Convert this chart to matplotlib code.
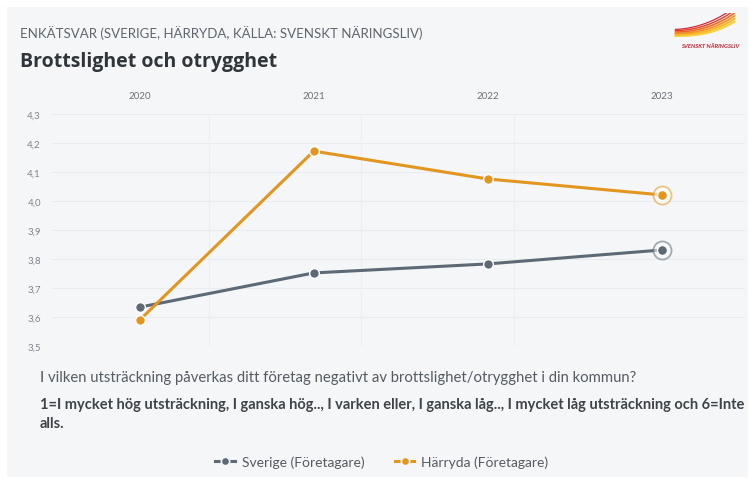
import numpy as np
import matplotlib
matplotlib.use("Agg")
import matplotlib.pyplot as plt
from matplotlib.lines import Line2D
from matplotlib.patches import Rectangle

years = ["2020", "2021", "2022", "2023"]
y_ticks = [3.5, 3.6, 3.7, 3.8, 3.9, 4.0, 4.1, 4.2, 4.3]
sverige = [3.634, 3.752, 3.783, 3.831]
harryda = [3.590, 4.172, 4.076, 4.021]
series_names = ["Sverige (Företagare)", "Härryda (Företagare)"]

GREY = "#5d6975"
ORANGE = "#e3961f"
BG = "#f4f6f8"
TXT = "#555b61"

plt.rcParams["font.family"] = ["Lato", "DejaVu Sans"]

W, H = 753, 481
fig = plt.figure(figsize=(W / 100, H / 100), dpi=100)
fig.patch.set_facecolor("white")
fig.patches.append(Rectangle((7 / W, 3 / H), 741 / W, 470 / H, transform=fig.transFigure,
                             facecolor=BG, edgecolor="none", zorder=-10))

def fx(px):
    return px / W

def fy(py):
    return 1 - py / H

ax = fig.add_axes([fx(52), fy(347), fx(745) - fx(52), fy(115) - fy(347)])
ax.set_facecolor(BG)
x = np.arange(len(years))
ax.set_xlim(-0.505, 3.48)
ax.set_ylim(3.5, 4.3)
ax.set_yticks(y_ticks)
ax.set_yticklabels([f"{v:.1f}".replace(".", ",") for v in y_ticks], fontsize=7, color="#7d858c")
ax.set_xticks(x)
ax.set_xticklabels(years, fontsize=7, color="#6a7177")
ax.xaxis.tick_top()
ax.tick_params(axis="both", length=0)
ax.tick_params(axis="x", pad=10)
ax.tick_params(axis="y", pad=8)
for s in ax.spines.values():
    s.set_visible(False)
for v in y_ticks:
    ax.axhline(v, color="#e9ecef", lw=0.8, zorder=0)
for v in [0.40, 1.27, 2.15]:
    ax.axvline(v, color="#eceef1", lw=0.8, zorder=0)

for vals, col in [(sverige, GREY), (harryda, ORANGE)]:
    ax.plot(x, vals, color=col, lw=2.2, marker="o", ms=7, mfc=col, mec="white", mew=1.0,
            zorder=3, solid_capstyle="round")
    ax.plot(x[-1], vals[-1], marker="o", ms=13, mfc="white", mec=col, mew=1.3, alpha=0.55, zorder=4)
    ax.plot(x[-1], vals[-1], marker="o", ms=7, mfc=col, mec="white", mew=0.8, zorder=5)

fig.text(fx(20), fy(33), "ENKÄTSVAR (SVERIGE, HÄRRYDA, KÄLLA: SVENSKT NÄRINGSLIV)",
         fontsize=9.5, color="#5f666c", va="center", ha="left")
fig.text(fx(20), fy(62), "Brottslighet och otrygghet", fontsize=14, fontweight="bold",
         family=["Open Sans", "DejaVu Sans"], color="#30353a", va="center", ha="left")
fig.text(fx(40), fy(378), "I vilken utsträckning påverkas ditt företag negativt av brottslighet/otrygghet i din kommun?",
         fontsize=10.7, color=TXT, va="center", ha="left")
fig.text(fx(40), fy(405), "1=I mycket hög utsträckning, I ganska hög.., I varken eller, I ganska låg.., I mycket låg utsträckning och 6=Inte",
         fontsize=10.5, fontweight="bold", color="#3f4449", va="center", ha="left")
fig.text(fx(40), fy(424), "alls.", fontsize=10.5, fontweight="bold", color="#3f4449", va="center", ha="left")

handles = [Line2D([0], [0], color=c, lw=2.2, marker="o", ms=6, mfc=c, mec=BG, mew=1.2)
           for c in (GREY, ORANGE)]
leg = fig.legend(handles, series_names, loc="center", bbox_to_anchor=(fx(382), fy(463)), ncol=2,
                 frameon=False, fontsize=10, handlelength=1.4, handletextpad=0.5, columnspacing=2.2)
for t in leg.get_texts():
    t.set_color(TXT)

# logo
lax = fig.add_axes([fx(672), fy(40), fx(66), fy(14) - fy(40)])
lax.set_xlim(0, 1)
lax.set_ylim(0, 1)
lax.axis("off")
t = np.linspace(0, 1, 60)
cols = ["#f7d23a", "#f6b52c", "#f29424", "#ec6a22", "#e23c24", "#d4202a"]
for i, c in enumerate(cols):
    xs = 0.05 + 0.9 * t
    ys = 0.12 + 0.05 * i + (0.55 + 0.06 * i) * t ** (2.5 - 0.2 * i) * (1 - 0.1 * i * (1 - t))
    lax.plot(xs, ys, color=c, lw=1.6 - 0.15 * i, solid_capstyle="round")
fig.text(fx(710), fy(47), "SVENSKT NÄRINGSLIV", fontsize=4.2, fontweight="bold", style="italic",
         color="#c8202c", ha="center", va="center")

fig.savefig("out.png", dpi=100, facecolor=fig.get_facecolor())
